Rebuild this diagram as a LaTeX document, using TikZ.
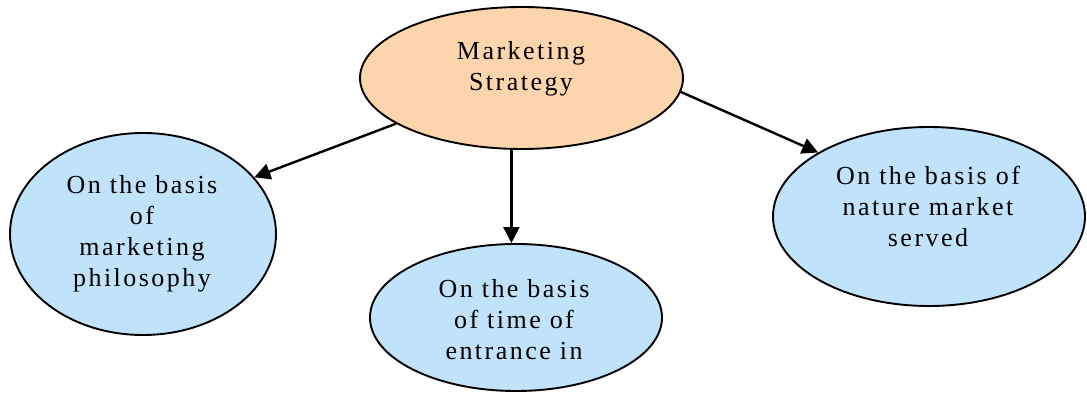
\documentclass[tikz,border=0pt]{standalone}
\usepackage{fontspec}
\setmainfont{Liberation Serif}[LetterSpace=9.5]
\usetikzlibrary{arrows.meta,shapes.geometric}
\definecolor{peach}{HTML}{FCD5AC}
\definecolor{skyfill}{HTML}{C0E2FA}
\begin{document}
\begin{tikzpicture}[x=1pt,y=-1pt,
  bubble/.style={ellipse,draw=black,line width=1.9pt,inner sep=0pt},
  txt/.style={align=center,anchor=base,inner sep=0pt,font=\fontsize{26}{31}\selectfont},
  link/.style={line width=2.4pt,-{Triangle[length=16pt,width=16pt]}}]
\useasboundingbox (0,0) rectangle (1087,393);
\node[bubble,fill=peach,minimum width=323pt,minimum height=142pt] (top) at (521.5,78) {};
\node[bubble,fill=skyfill,minimum width=266pt,minimum height=202pt] (left) at (143,234) {};
\node[bubble,fill=skyfill,minimum width=292pt,minimum height=147pt] (bottom) at (516,317.5) {};
\node[bubble,fill=skyfill,minimum width=312pt,minimum height=179pt] (right) at (929,216.5) {};
\node[txt] (ttop) at (521,91) {Marketing\\Strategy};
\node[txt] (tleft) at (142,286.7) {On the basis\\of\\marketing\\philosophy};
\node[txt] (tbottom) at (514,359.3) {On the basis\\of time of\\entrance in};
\node[txt] (tright) at (928,246.5) {On the basis of\\nature market\\served};
\draw[link] (top.200.7) -- (left.27.9);
\draw[link] (top.262) -- (top.262 |- bottom.north);
\draw[link] (top.-5.3) -- (right.150.5);
\end{tikzpicture}
\end{document}
